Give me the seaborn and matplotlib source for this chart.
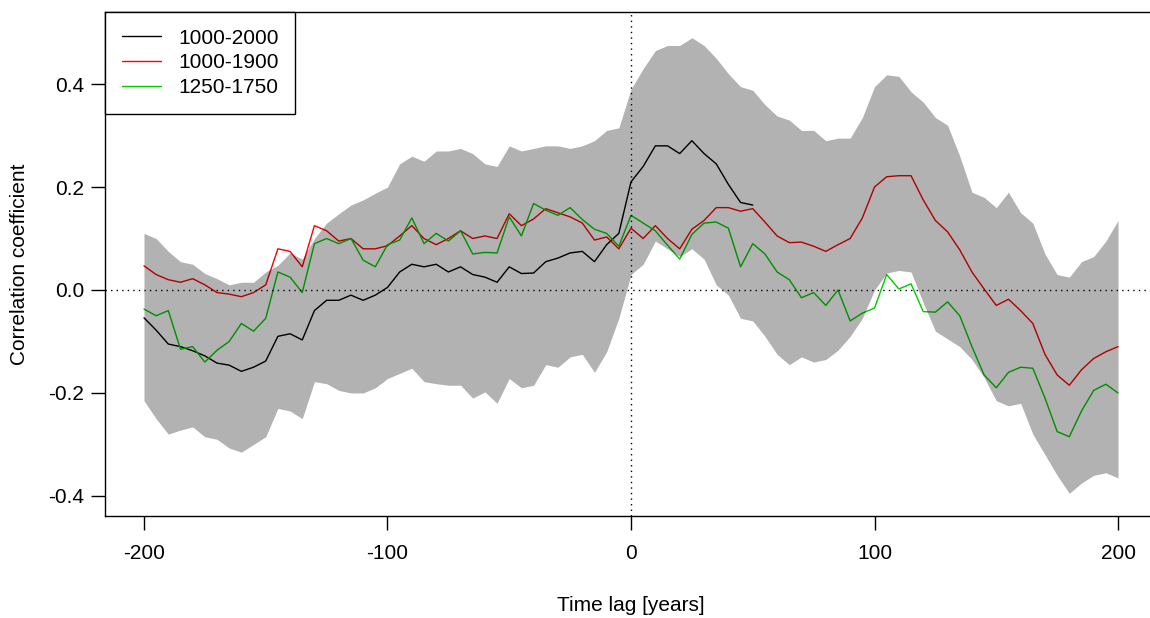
import numpy as np
import pandas as pd
import matplotlib
matplotlib.use("Agg")
import matplotlib.pyplot as plt
import seaborn as sns

# lag axis (years), 5-year steps
lags = list(range(-200, 201, 5))
black_lags = list(range(-200, 51, 5))

# 1000-2000 (stops at lag ~50)
r_1000_2000 = [-0.054, -0.078, -0.105, -0.110, -0.118, -0.128, -0.142, -0.146, -0.158, -0.150,
               -0.138, -0.090, -0.085, -0.097, -0.040, -0.020, -0.020, -0.010, -0.020, -0.010,
               0.005, 0.035, 0.050, 0.045, 0.050, 0.035, 0.045, 0.030, 0.025, 0.015,
               0.045, 0.032, 0.033, 0.055, 0.062, 0.072, 0.075, 0.055, 0.088, 0.110,
               0.210, 0.240, 0.280, 0.280, 0.265, 0.290, 0.265, 0.245, 0.205, 0.170,
               0.165]

r_1000_1900 = [0.047, 0.030, 0.020, 0.015, 0.022, 0.010, -0.005, -0.008, -0.013, -0.005,
               0.010, 0.080, 0.075, 0.045, 0.125, 0.115, 0.095, 0.100, 0.080, 0.080,
               0.086, 0.105, 0.125, 0.100, 0.088, 0.100, 0.115, 0.100, 0.105, 0.100,
               0.148, 0.125, 0.138, 0.158, 0.150, 0.142, 0.130, 0.097, 0.103, 0.080,
               0.120, 0.100, 0.125, 0.100, 0.080, 0.118, 0.135, 0.160, 0.160, 0.153,
               0.158, 0.132, 0.105, 0.092, 0.093, 0.085, 0.075, 0.088, 0.100, 0.140,
               0.200, 0.220, 0.222, 0.222, 0.175, 0.135, 0.113, 0.078, 0.035, 0.002,
               -0.030, -0.018, -0.040, -0.065, -0.125, -0.165, -0.185, -0.155, -0.133, -0.120,
               -0.110]

r_1250_1750 = [-0.037, -0.050, -0.040, -0.115, -0.110, -0.140, -0.117, -0.100, -0.065, -0.080,
               -0.055, 0.035, 0.025, -0.005, 0.090, 0.100, 0.090, 0.100, 0.058, 0.045,
               0.088, 0.097, 0.140, 0.090, 0.110, 0.095, 0.115, 0.070, 0.073, 0.072,
               0.142, 0.105, 0.168, 0.155, 0.145, 0.160, 0.137, 0.118, 0.110, 0.085,
               0.145, 0.130, 0.115, 0.087, 0.060, 0.108, 0.130, 0.132, 0.120, 0.045,
               0.090, 0.070, 0.035, 0.020, -0.015, -0.005, -0.030, 0.000, -0.060, -0.045,
               -0.035, 0.030, 0.002, 0.012, -0.042, -0.043, -0.023, -0.050, -0.110, -0.165,
               -0.190, -0.160, -0.150, -0.152, -0.210, -0.275, -0.285, -0.235, -0.195, -0.183,
               -0.200]

# grey significance band
band_upper = [0.110, 0.100, 0.075, 0.055, 0.050, 0.032, 0.022, 0.010, 0.015, 0.015,
              0.035, 0.048, 0.072, 0.060, 0.100, 0.130, 0.148, 0.165, 0.175, 0.188,
              0.200, 0.245, 0.260, 0.250, 0.270, 0.270, 0.275, 0.265, 0.245, 0.240,
              0.280, 0.270, 0.275, 0.280, 0.280, 0.275, 0.280, 0.290, 0.310, 0.315,
              0.390, 0.430, 0.465, 0.475, 0.475, 0.490, 0.475, 0.450, 0.420, 0.395,
              0.388, 0.360, 0.338, 0.330, 0.310, 0.310, 0.290, 0.295, 0.295, 0.335,
              0.395, 0.418, 0.415, 0.385, 0.365, 0.335, 0.320, 0.260, 0.190, 0.180,
              0.160, 0.190, 0.150, 0.130, 0.070, 0.030, 0.025, 0.055, 0.065, 0.095,
              0.135]

band_lower = [-0.215, -0.250, -0.280, -0.272, -0.266, -0.285, -0.290, -0.307, -0.315, -0.300,
              -0.285, -0.230, -0.235, -0.250, -0.178, -0.182, -0.195, -0.200, -0.200, -0.190,
              -0.172, -0.162, -0.152, -0.178, -0.182, -0.185, -0.185, -0.210, -0.198, -0.220,
              -0.172, -0.190, -0.185, -0.145, -0.150, -0.130, -0.125, -0.160, -0.120, -0.055,
              0.030, 0.050, 0.095, 0.080, 0.065, 0.080, 0.060, 0.010, -0.010, -0.055,
              -0.060, -0.090, -0.125, -0.145, -0.130, -0.140, -0.135, -0.117, -0.090, -0.055,
              0.000, 0.033, 0.038, 0.035, -0.025, -0.080, -0.095, -0.110, -0.135, -0.170,
              -0.215, -0.225, -0.220, -0.280, -0.320, -0.360, -0.395, -0.375, -0.360, -0.355,
              -0.365]

series_names = ["1000-2000", "1000-1900", "1250-1750"]
colors = {"1000-2000": "black", "1000-1900": "#FF0000", "1250-1750": "#00CD00"}

df = pd.concat([
    pd.DataFrame({"lag": black_lags, "r": r_1000_2000, "period": "1000-2000"}),
    pd.DataFrame({"lag": lags, "r": r_1000_1900, "period": "1000-1900"}),
    pd.DataFrame({"lag": lags, "r": r_1250_1750, "period": "1250-1750"}),
])

sns.set_style("ticks")
plt.rcParams["font.family"] = ["Liberation Sans", "DejaVu Sans"]
plt.rcParams["text.color"] = "black"
plt.rcParams["axes.labelcolor"] = "black"

fig = plt.figure(figsize=(11.5, 6.18), dpi=100)
ax = fig.add_axes([105 / 1150, 1 - 516 / 618, 1052 / 1150, 504 / 618])

sns.lineplot(data=df, x="lag", y="r", hue="period", hue_order=series_names,
             palette=colors, linewidth=1.0, ax=ax, zorder=2)

# translucent band on top of the lines (darkens them like the original)
ax.fill_between(lags, band_lower, band_upper, color="black", alpha=0.3,
                linewidth=0, zorder=3)

ax.axhline(0, color="black", linestyle=(0, (1, 3)), linewidth=1.0, zorder=4)
ax.axvline(0, color="black", linestyle=(0, (1, 3)), linewidth=1.0, zorder=4)

ax.set_xlim(-216, 216)
ax.set_ylim(-0.439, 0.54)
ax.set_xticks([-200, -100, 0, 100, 200])
ax.set_yticks([-0.4, -0.2, 0.0, 0.2, 0.4])
ax.set_yticklabels(["-0.4", "-0.2", "0.0", "0.2", "0.4"])
ax.set_xticklabels(["-200", "-100", "0", "100", "200"])
ax.tick_params(axis="both", direction="out", length=10, width=1, color="black",
               labelsize=15, labelcolor="black")
ax.tick_params(axis="x", pad=10)
ax.tick_params(axis="y", pad=5)

for s in ax.spines.values():
    s.set_color("black")
    s.set_linewidth(1.0)

ax.set_xlabel("Time lag [years]", fontsize=15, va="center", color="black")
ax.set_ylabel("Correlation coefficient", fontsize=15, va="center", ha="center",
              color="black")
ax.xaxis.set_label_coords(0.5, -0.178)
ax.yaxis.set_label_coords(-0.081, 0.5)

handles, labels = ax.get_legend_handles_labels()
leg = ax.legend(handles, labels, loc="upper left", bbox_to_anchor=(0, 1),
                borderaxespad=0, fontsize=15, frameon=True, fancybox=False,
                edgecolor="black", framealpha=1, handlelength=1.9,
                handletextpad=0.8, borderpad=0.8, labelspacing=0.27)
leg.get_frame().set_linewidth(1.0)
leg.set_zorder(5)
for t in leg.get_texts():
    t.set_color("black")

fig.savefig("out.png", dpi=100)
